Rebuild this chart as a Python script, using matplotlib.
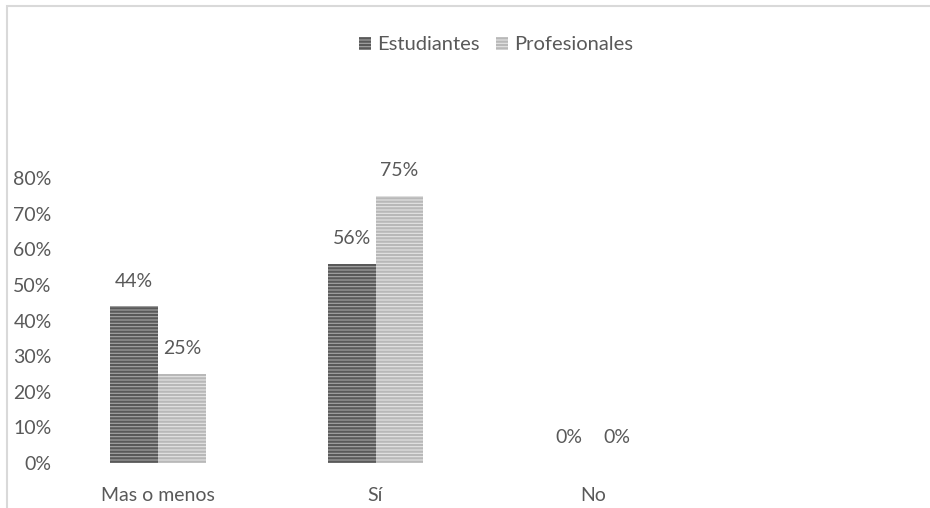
import matplotlib
matplotlib.use("Agg")
import matplotlib.pyplot as plt
import numpy as np
from matplotlib.patches import Rectangle

# Datos
categorias = ['Mas o menos', 'Sí', 'No']
estudiantes = [0.44, 0.56, 0.0]
profesionales = [0.25, 0.75, 0.0]
etiquetas_y = ['0%', '10%', '20%', '30%', '40%', '50%', '60%', '70%', '80%']

plt.rcParams['font.family'] = ['Lato', 'DejaVu Sans']
plt.rcParams['hatch.linewidth'] = 1.6
gris_texto = '#595959'

fig = plt.figure(figsize=(9.3, 5.08), dpi=100)
ax = fig.add_axes([60 / 930, 1 - 463 / 508, 870 / 930, (463 - 178) / 508])

x = np.arange(len(categorias))
ancho = 0.22

b1 = ax.bar(x - ancho / 2, estudiantes, ancho, color='#a6a6a6', edgecolor='#595959',
            hatch='-----', linewidth=0, label='Estudiantes')
b2 = ax.bar(x + ancho / 2, profesionales, ancho, color='#e4e4e4', edgecolor='#b8b8b8',
            hatch='-----', linewidth=0, label='Profesionales')

for barras, valores in [(b1, estudiantes), (b2, profesionales)]:
    for barra, v in zip(barras, valores):
        ax.annotate(f'{v:.0%}', (barra.get_x() + barra.get_width() / 2, v),
                    xytext=(0, 12), textcoords='offset points', ha='center', va='bottom',
                    fontsize=14, color=gris_texto, annotation_clip=False)

ax.set_xlim(-98 / 217.5, 772 / 217.5)
ax.set_ylim(0, 0.8)
ax.set_yticks(np.arange(0, 0.81, 0.1))
ax.set_yticklabels(etiquetas_y)
ax.set_xticks(x)
ax.set_xticklabels(categorias)
ax.tick_params(length=0, labelsize=14, colors=gris_texto)
ax.tick_params(axis='y', pad=6)
ax.tick_params(axis='x', pad=17)
for s in ax.spines.values():
    s.set_visible(False)

leg = fig.legend(handles=[b1, b2], loc='center', bbox_to_anchor=(496 / 930, 1 - 45 / 508),
                 ncol=2, frameon=False, fontsize=14.5, handlelength=0.6, handleheight=0.6,
                 handletextpad=0.3, columnspacing=0.8)
for t in leg.get_texts():
    t.set_color(gris_texto)

# Borde del gráfico
fig.add_artist(Rectangle((6.5 / 930, -0.1), 1.2, 1 - 6.5 / 508 + 0.1, transform=fig.transFigure,
                         fill=False, edgecolor='#d9d9d9', linewidth=1.5))

fig.savefig('out.png', dpi=100)
